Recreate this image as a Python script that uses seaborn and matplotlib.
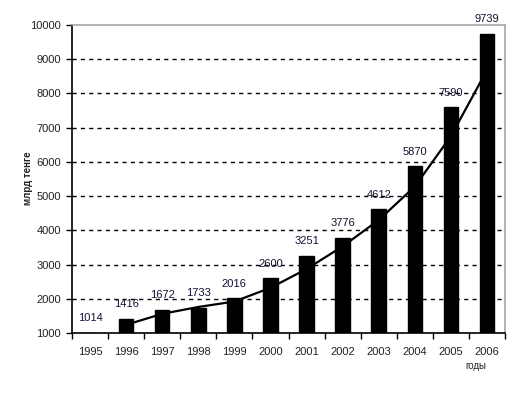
import numpy as np
import pandas as pd
import matplotlib
matplotlib.use("Agg")
import matplotlib.pyplot as plt
import seaborn as sns

years = ["1995", "1996", "1997", "1998", "1999", "2000", "2001", "2002", "2003", "2004", "2005", "2006"]
values = [1014, 1416, 1672, 1733, 2016, 2600, 3251, 3776, 4612, 5870, 7590, 9739]
# trend line (1996-2006)
trend_years = years[1:]
trend = [1240, 1560, 1760, 1920, 2320, 2870, 3530, 4300, 5280, 6750, 8680]
y_ticks = [1000, 2000, 3000, 4000, 5000, 6000, 7000, 8000, 9000, 10000]

sns.set_theme(style="white")
plt.rcParams['font.family'] = ['Liberation Sans', 'DejaVu Sans']

fig = plt.figure(figsize=(5.2, 3.98), dpi=100)
ax = fig.add_axes([72/520, 1-333/398, (505-72)/520, (333-25)/398])

df = pd.DataFrame({"year": years, "value": values})
sns.barplot(data=df, x="year", y="value", color="black", width=0.4,
            saturation=1, ax=ax, zorder=3, order=years)
for p in ax.patches:
    p.set_edgecolor("black")

pos = {y: i for i, y in enumerate(years)}
tdf = pd.DataFrame({"pos": [pos[y] for y in trend_years], "trend": trend})
sns.lineplot(data=tdf, x="pos", y="trend", color="black", lw=1.6, ax=ax, zorder=2)

ax.set_ylim(1000, 10000)
ax.set_xlim(-0.5, len(years) - 0.5)
ax.set_yticks(y_ticks)
ax.set_yticklabels([str(t) for t in y_ticks])
ax.set_xticks(range(len(years)))
ax.set_xticklabels(years)
ax.set_xticks(np.arange(-0.5, len(years), 1.0), minor=True)
ax.tick_params(axis="x", which="major", length=0, pad=10, labelsize=8, labelcolor="#222222")
ax.tick_params(axis="x", which="minor", length=4, width=1, color="black", direction="out", bottom=True)
ax.tick_params(axis="y", length=4, width=1, color="black", direction="out", left=True,
               pad=4, labelsize=8, labelcolor="#222222")

for yv in y_ticks[1:-1]:
    ax.axhline(yv, color="black", lw=1, ls=(0, (3, 3)), zorder=1)

ax.set_xlabel("")
ax.set_ylabel("")
for s in ["left", "bottom"]:
    ax.spines[s].set_color("black")
    ax.spines[s].set_linewidth(1.2)
for s in ["top", "right"]:
    ax.spines[s].set_color("#a8a8a8")
    ax.spines[s].set_linewidth(1.2)

for i, v in enumerate(values):
    ax.annotate(str(v), (i, v), xytext=(0, 7), textcoords="offset points",
                ha="center", va="bottom", fontsize=8, color="#111133", zorder=5)

fig.text(28/520, 1-178/398, "млрд тенге", rotation=90, ha="center", va="center",
         fontsize=7, fontweight="bold", color="#222222")
fig.text(476/520, 1-366/398, "годы", ha="center", va="center", fontsize=7, color="#222222")

fig.savefig("out.png", dpi=100, facecolor="white")
